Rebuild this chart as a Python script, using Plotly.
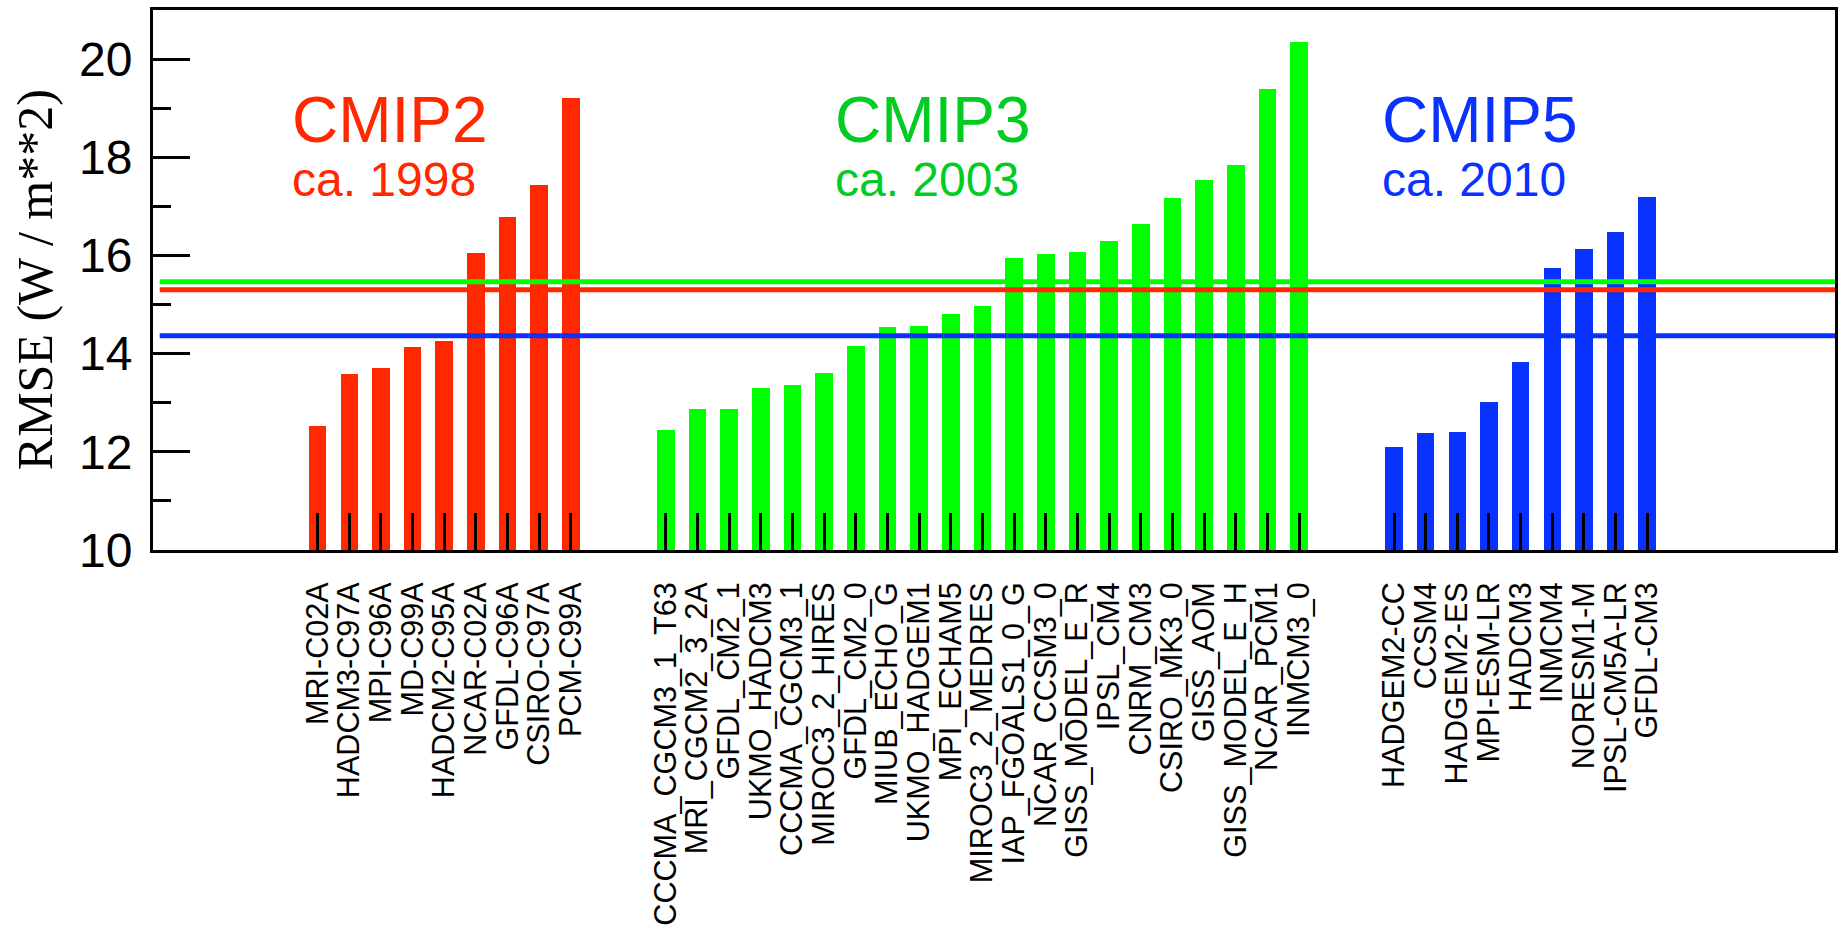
import plotly.graph_objects as go

# ---------------- data ----------------
cmip2_models = ["MRI-C02A", "HADCM3-C97A", "MPI-C96A", "MD-C99A", "HADCM2-C95A",
                "NCAR-C02A", "GFDL-C96A", "CSIRO-C97A", "PCM-C99A"]
cmip2_rmse = [12.53, 13.59, 13.71, 14.14, 14.25, 16.04, 16.79, 17.43, 19.21]

cmip3_models = ["CCCMA_CGCM3_1_T63", "MRI_CGCM2_3_2A", "GFDL_CM2_1", "UKMO_HADCM3",
                "CCCMA_CGCM3_1", "MIROC3_2_HIRES", "GFDL_CM2_0", "MIUB_ECHO_G",
                "UKMO_HADGEM1", "MPI_ECHAM5", "MIROC3_2_MEDRES", "IAP_FGOALS1_0_G",
                "NCAR_CCSM3_0", "GISS_MODEL_E_R", "IPSL_CM4", "CNRM_CM3",
                "CSIRO_MK3_0", "GISS_AOM", "GISS_MODEL_E_H", "NCAR_PCM1", "INMCM3_0"]
cmip3_rmse = [12.44, 12.88, 12.88, 13.30, 13.37, 13.60, 14.15, 14.55, 14.57, 14.81,
              14.98, 15.95, 16.02, 16.07, 16.29, 16.64, 17.17, 17.53, 17.84, 19.40, 20.34]

cmip5_models = ["HADGEM2-CC", "CCSM4", "HADGEM2-ES", "MPI-ESM-LR", "HADCM3",
                "INMCM4", "NORESM1-M", "IPSL-CM5A-LR", "GFDL-CM3"]
cmip5_rmse = [12.10, 12.39, 12.40, 13.02, 13.83, 15.74, 16.14, 16.47, 17.19]

group_names = ["CMIP2", "CMIP3", "CMIP5"]
group_years = ["ca. 1998", "ca. 2003", "ca. 2010"]
y_ticks = [10, 12, 14, 16, 18, 20]

# ---------------- styling / layout ----------------
bar_colors = ["#FF2800", "#00FF00", "#0A32FF"]
text_colors = ["#FF2800", "#00CC22", "#0A32FF"]
group_start = [1, 12, 35]          # slot position of first bar in each group
label_x = [0.12, 17.28, 34.55]     # left edge of group titles (slot units)
W, H = 1845, 933
ML, MR, MT, MB = 153, 7, 8, 367

groups = [(cmip2_models, cmip2_rmse), (cmip3_models, cmip3_rmse), (cmip5_models, cmip5_rmse)]

fig = go.Figure()
tickvals, ticktext = [], []
for g, (models, vals) in enumerate(groups):
    xs = [group_start[g] + i for i in range(len(models))]
    tickvals += xs
    ticktext += models
    fig.add_trace(go.Bar(
        x=xs, y=[v - 10 for v in vals], base=10, width=0.555,
        marker=dict(color=bar_colors[g], line=dict(width=0)),
        showlegend=False, hoverinfo="skip",
    ))

# group mean lines (drawn over bars)
for g in [0, 1, 2]:
    vals = groups[g][1]
    m = sum(vals) / len(vals)
    fig.add_shape(type="line", xref="paper", yref="y", x0=0.004, x1=1, y0=m, y1=m,
                  line=dict(color=bar_colors[g], width=5), layer="above")

# group titles
for g in range(3):
    fig.add_annotation(x=label_x[g], y=18.76, xref="x", yref="y", text=group_names[g],
                       showarrow=False, xanchor="left", yanchor="middle",
                       font=dict(family="Liberation Sans, Arial, sans-serif", size=64,
                                 color=text_colors[g]))
    fig.add_annotation(x=label_x[g], y=17.55, xref="x", yref="y", text=group_years[g],
                       showarrow=False, xanchor="left", yanchor="middle",
                       font=dict(family="Liberation Sans, Arial, sans-serif", size=48,
                                 color=text_colors[g]))

# y-axis title
fig.add_annotation(x=-(ML - 35) / (W - ML - MR), y=0.5, xref="paper", yref="paper",
                   text="RMSE (W / m**2)", textangle=-90, showarrow=False,
                   xanchor="center", yanchor="middle",
                   font=dict(family="Liberation Serif, Times New Roman, serif", size=50,
                             color="black"))

fig.update_layout(
    width=W, height=H,
    margin=dict(l=ML, r=MR, t=MT, b=MB, pad=0),
    plot_bgcolor="white", paper_bgcolor="white",
    bargap=0,
    font=dict(family="Liberation Sans, Arial, sans-serif", color="black"),
)
fig.update_xaxes(
    range=[-4.20, 48.93], tickmode="array", tickvals=tickvals, ticktext=ticktext,
    tickangle=-90, ticks="inside", ticklen=37, tickwidth=2.5, tickcolor="black",
    tickfont=dict(size=30.6, family="Liberation Sans, Arial, sans-serif", color="black"),
    ticklabelstandoff=17,
    showline=True, linecolor="black", linewidth=3, mirror=True,
    showgrid=False, zeroline=False, fixedrange=True,
)
fig.update_yaxes(
    range=[10, 21], tickmode="array", tickvals=y_ticks,
    ticks="inside", ticklen=37, tickwidth=2.5, tickcolor="black",
    minor=dict(dtick=1, tick0=11, ticks="inside", ticklen=18, tickwidth=2.5,
               tickcolor="black", showgrid=False),
    tickfont=dict(size=48, family="Liberation Sans, Arial, sans-serif", color="black"),
    ticklabelstandoff=8,
    showline=True, linecolor="black", linewidth=3, mirror=True,
    showgrid=False, zeroline=False, fixedrange=True,
)

fig.write_html("out.html", config={"displayModeBar": False},
               post_script="document.body.style.margin='0px';")
